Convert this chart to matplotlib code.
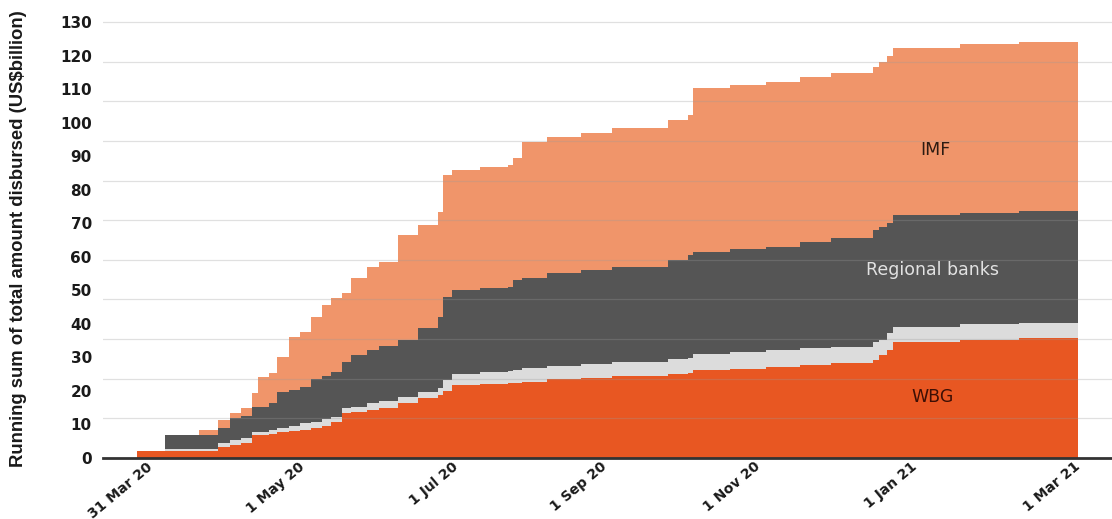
import numpy as np
import matplotlib
matplotlib.use("Agg")
import matplotlib.pyplot as plt

# x position in days after 31 Mar 20
days = [0, 10, 22, 29, 33, 37, 41, 43, 47, 50, 54, 58, 62, 66, 69, 73, 76, 82, 86,
        93, 100, 107, 109, 112, 122, 132, 134, 137, 146, 158, 169, 189, 196, 198,
        211, 224, 236, 247, 262, 264, 267, 269, 293, 314, 335]

# running sum disbursed per lender (US$ billion)
wbg = [2.0, 2.0, 2.0, 3.3, 4.0, 4.5, 6.9, 6.9, 7.2, 7.8, 8.0, 8.3, 8.9, 9.5, 10.7,
       13.4, 13.6, 14.3, 15.0, 16.4, 17.9, 18.8, 20.0, 21.8, 22.0, 22.4, 22.5, 22.6,
       23.6, 24.0, 24.4, 25.0, 25.3, 26.2, 26.6, 27.1, 27.7, 28.3, 29.2, 30.7, 32.2,
       34.6, 35.2, 35.7, 36.1]
other = [0.0, 0.7, 0.7, 1.2, 1.5, 1.5, 0.9, 0.9, 1.1, 1.1, 1.5, 2.1, 1.9, 2.0, 1.6,
         1.5, 1.6, 2.1, 2.0, 1.8, 1.8, 2.2, 3.3, 3.2, 3.6, 3.4, 3.7, 4.2, 3.7, 4.0,
         4.2, 4.5, 4.5, 4.8, 5.0, 5.1, 5.0, 4.8, 5.4, 4.5, 5.1, 4.5, 4.8, 4.6, 4.5]
regional = [0.0, 4.3, 4.3, 4.5, 6.5, 6.5, 7.4, 7.4, 8.2, 10.8, 10.8, 10.8, 12.7, 13.0,
            13.3, 13.6, 15.5, 15.8, 16.5, 17.0, 19.1, 21.0, 24.7, 25.1, 25.1, 25.2,
            26.8, 27.0, 27.9, 28.0, 28.4, 29.5, 30.7, 30.4, 30.6, 30.8, 31.6, 32.5,
            33.4, 33.7, 32.7, 33.3, 33.0, 33.2, 33.3]
imf = [0.0, 0.0, 1.3, 2.3, 1.4, 2.4, 4.2, 9.0, 8.8, 10.4, 15.8, 16.4, 18.5, 21.1,
       22.1, 20.7, 23.0, 24.8, 24.9, 31.3, 30.7, 31.4, 36.4, 35.8, 36.1, 36.4, 36.5,
       40.4, 40.4, 40.9, 41.4, 41.8, 41.8, 48.9, 49.0, 49.1, 49.2, 49.2, 48.6, 49.1,
       49.8, 49.8, 50.4, 50.4, 50.4]

tick_days = [5, 59, 113.5, 166.5, 221, 277, 335]
tick_labels = ['31 Mar 20', '1 May 20', '1 Jul 20', '1 Sep 20', '1 Nov 20', '1 Jan 21', '1 Mar 21']

colors = ['#E85722', '#DCDCDC', '#555555', '#F0956A']

fig = plt.figure(figsize=(11.12, 5.19), dpi=100)
ax = fig.add_axes([0.0926, 0.1175, 0.9074, 0.844])

x = np.array(days)
layers = [np.array(wbg), np.array(other), np.array(regional), np.array(imf)]
base = np.zeros(len(x))
for vals, c in zip(layers, colors):
    top = base + vals
    ax.fill_between(x, base, top, step='post', color=c, lw=0, zorder=2)
    base = top

# gridlines (they sit on top of the areas)
for g in np.linspace(0, 130, 12)[1:]:
    ax.axhline(g, color='#9a9a9a', alpha=0.3, lw=0.9, zorder=3)

ax.set_xlim(-12.1, 347)
ax.set_ylim(0, 130.6)
ax.set_yticks(np.arange(0, 131, 10))
ax.set_xticks(tick_days)
ax.set_xticklabels(tick_labels, rotation=40, ha='right', va='center',
                   rotation_mode='anchor', fontweight='bold', fontsize=10)
for lab in ax.get_yticklabels():
    lab.set_fontweight('bold')
    lab.set_fontsize(11)
ax.tick_params(axis='both', length=0, colors='#1a1a1a')
ax.tick_params(axis='y', pad=8)
ax.tick_params(axis='x', pad=5)

for s in ['top', 'right', 'left']:
    ax.spines[s].set_visible(False)
ax.spines['bottom'].set_color('#333333')
ax.spines['bottom'].set_linewidth(2)
ax.spines['bottom'].set_zorder(4)

ax.text(284, 91.8, 'IMF', ha='center', va='center', fontsize=12.5, color='#2b1b12', zorder=5)
ax.text(283, 56, 'Regional banks', ha='center', va='center', fontsize=12.5, color='#e2e2e2', zorder=5)
ax.text(283, 18.2, 'WBG', ha='center', va='center', fontsize=12.5, color='#3d0f05', zorder=5)

fig.text(0.017, 0.54, 'Running sum of total amount disbursed (US$billion)', rotation=90,
         ha='center', va='center', fontsize=13.3, fontweight='bold', family='Liberation Sans',
         color='#1a1a1a')

fig.savefig('out.png', dpi=100)
